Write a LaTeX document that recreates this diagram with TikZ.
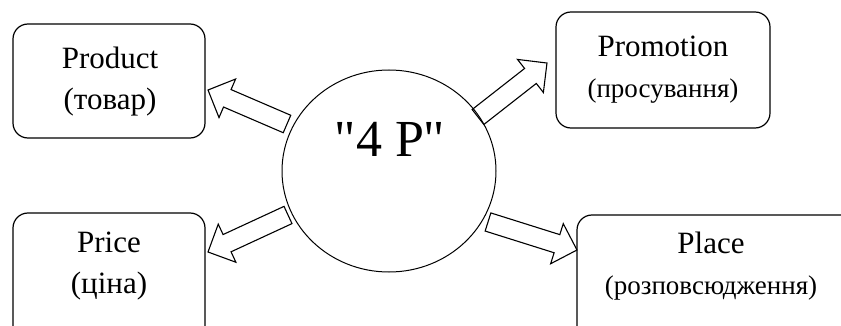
\documentclass[tikz,border=0pt]{standalone}
\usepackage{fontspec}
\setmainfont{Liberation Serif}
\newfontfamily\tnrfont{Liberation Serif}
\usetikzlibrary{calc,shapes.geometric}
\tikzset{
  box/.style={draw, line width=1.2pt, rounded corners=15pt},
  lbl/.style={align=center, inner sep=0pt, font=\tnrfont\fontsize{31}{41}\selectfont},
  blockarrow/.style={draw, line width=1.1pt, fill=white, line join=miter,
    to path={let \p1=($(\tikztotarget)-(\tikztostart)$),
                 \n1={atan2(\y1,\x1)}, \n2={veclen(\x1,\y1)}, \n3={\n2-21} in
      ([shift={(\tikztostart)},rotate=\n1]0pt,9.5pt)
      -- ([shift={(\tikztostart)},rotate=\n1,xshift=\n3]0pt,9.5pt)
      -- ([shift={(\tikztostart)},rotate=\n1,xshift=\n3]0pt,21pt)
      -- ([shift={(\tikztostart)},rotate=\n1,xshift=\n2]0pt,0pt)
      -- ([shift={(\tikztostart)},rotate=\n1,xshift=\n3]0pt,-21pt)
      -- ([shift={(\tikztostart)},rotate=\n1,xshift=\n3]0pt,-9.5pt)
      -- ([shift={(\tikztostart)},rotate=\n1]0pt,-9.5pt)
      -- cycle}},
}
\begin{document}
\begin{tikzpicture}[x=1pt,y=-1pt]
\clip (0,0) rectangle (841,326);
\fill[white] (0,0) rectangle (841,326);

% boxes
\draw[box] (13,24) rectangle (205,138);
\draw[box] (556,12) rectangle (770,128);
\draw[box] (13,213) rectangle (205,340);
\draw[box] (577,215) rectangle (880,340);
\node[inner sep=0pt] (prodbox) at (109,81) {};
\node[inner sep=0pt] (promobox) at (663,70) {};
\node[inner sep=0pt] (pricebox) at (109,276) {};
\node[inner sep=0pt] (placebox) at (728,276) {};

% labels
\node[lbl] (prodtxt) at (110,82) {Product\\(товар)};
\node[lbl] (promotxt) at (663,70) {Promotion\\{\fontsize{27}{27}\selectfont(просування)}};
\node[lbl] (pricetxt) at (109,266) {Price\\(ціна)};
\node[lbl] (placetxt) at (711,266) {Place\\{\fontsize{27}{27}\selectfont(розповсюдження)}};

% arrow end points
\coordinate (t1) at (287,124); \coordinate (h1) at (208,90);
\coordinate (t2) at (478,117); \coordinate (h2) at (547,63);
\coordinate (t3) at (288,215); \coordinate (h3) at (208,252);
\coordinate (t4) at (488,222); \coordinate (h4) at (577,250);
\draw[blockarrow] (t1) to (h1);
\draw[blockarrow] (t2) to (h2);
\draw[blockarrow] (t3) to (h3);
\draw[blockarrow] (t4) to (h4);

% central circle
\node[draw, ellipse, line width=1pt, minimum width=214pt, minimum height=202pt] (c) at (389,171) {};
\node[inner sep=0pt, font=\tnrfont\fontsize{52}{52}\selectfont] (c4p) at (390,139) {\symbol{34}4 P\symbol{34}};
\end{tikzpicture}
\end{document}
